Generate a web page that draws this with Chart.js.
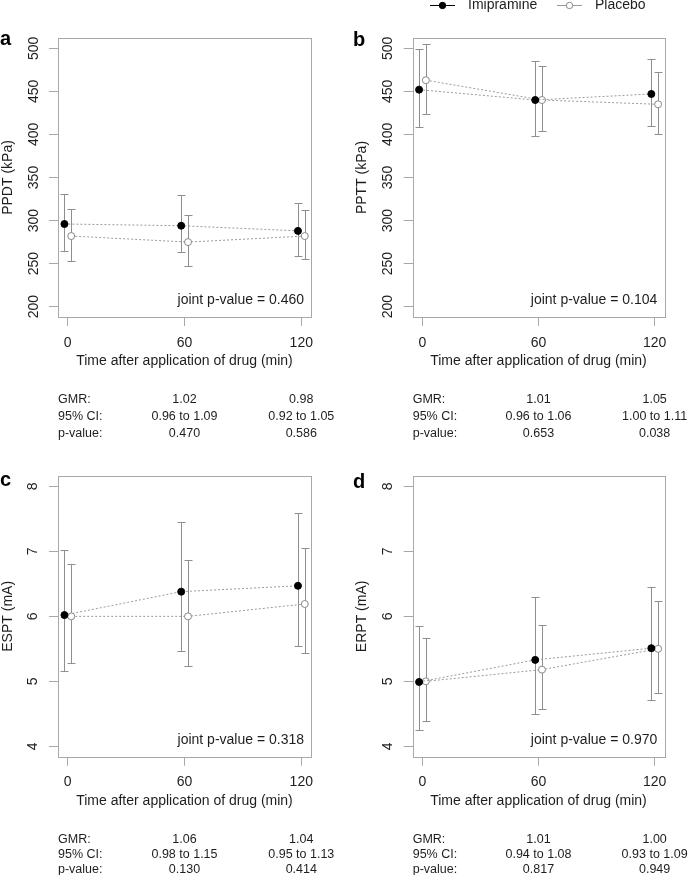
<!DOCTYPE html>
<html>
<head>
<meta charset="utf-8">
<script src="https://cdn.jsdelivr.net/npm/chart.js@4.4.1/dist/chart.umd.min.js"></script>
<style>
  html, body { margin: 0; padding: 0; background: #fff; }
  #wrap { position: relative; width: 689px; height: 875px; overflow: hidden; }
  canvas { position: absolute; }
</style>
</head>
<body>
<div id="wrap">
  <canvas id="panelA" width="344" height="440" style="left:0;top:0"></canvas>
  <canvas id="panelB" width="344" height="440" style="left:345px;top:0"></canvas>
  <canvas id="panelC" width="344" height="435" style="left:0;top:440px"></canvas>
  <canvas id="panelD" width="344" height="435" style="left:345px;top:440px"></canvas>
</div>
<script>
const times = [0, 60, 120];
const tableTimes = [60, 120];
const rowLabels = ['GMR:', '95% CI:', 'p-value:'];
const kpaTicks = [200, 250, 300, 350, 400, 450, 500];
const maTicks = [4, 5, 6, 7, 8];

// a - PPDT
const ppdtImip = [296, 294, 288];
const ppdtImipLo = [265, 263, 259];
const ppdtImipHi = [331, 330, 320];
const ppdtPlac = [282, 275, 282];
const ppdtPlacLo = [253, 247, 255];
const ppdtPlacHi = [314, 306, 312];
const ppdtGmr = ['1.02', '0.98'];
const ppdtCi = ['0.96 to 1.09', '0.92 to 1.05'];
const ppdtP = ['0.470', '0.586'];
const ppdtJoint = '0.460';

// b - PPTT
const ppttImip = [452, 440, 447];
const ppttImipLo = [409, 398, 410];
const ppttImipHi = [499, 485, 488];
const ppttPlac = [463, 440, 435];
const ppttPlacLo = [424, 404, 400];
const ppttPlacHi = [505, 479, 473];
const ppttGmr = ['1.01', '1.05'];
const ppttCi = ['0.96 to 1.06', '1.00 to 1.11'];
const ppttP = ['0.653', '0.038'];
const ppttJoint = '0.104';

// c - ESPT
const esptImip = [6.02, 6.38, 6.47];
const esptImipLo = [5.16, 5.47, 5.54];
const esptImipHi = [7.02, 7.45, 7.59];
const esptPlac = [6.00, 6.00, 6.19];
const esptPlacLo = [5.28, 5.24, 5.44];
const esptPlacHi = [6.80, 6.86, 7.05];
const esptGmr = ['1.06', '1.04'];
const esptCi = ['0.98 to 1.15', '0.95 to 1.13'];
const esptP = ['0.130', '0.414'];
const esptJoint = '0.318';

// d - ERPT
const erptImip = [4.99, 5.33, 5.51];
const erptImipLo = [4.25, 4.50, 4.71];
const erptImipHi = [5.85, 6.30, 6.45];
const erptPlac = [5.00, 5.18, 5.50];
const erptPlacLo = [4.39, 4.57, 4.82];
const erptPlacHi = [5.67, 5.87, 6.24];
const erptGmr = ['1.01', '1.00'];
const erptCi = ['0.94 to 1.08', '0.93 to 1.09'];
const erptP = ['0.817', '0.949'];
const erptJoint = '0.970';

const fontFamily = '"Liberation Sans", Arial, sans-serif';
const textColor = '#1e1e1e';
const axisGrey = '#a8a8a8';
const barGrey = '#8e8e8e';
const lineGrey = '#9a9a9a';

Chart.defaults.font.family = fontFamily;
Chart.defaults.color = textColor;

// little dodge so the two groups don't overlap
const dodgeImip = -1.7;
const dodgePlac = 1.8;

const panelDecor = {
  id: 'panelDecor',
  beforeDatasetsDraw(chart) {
    const { ctx, scales: { x, y } } = chart;
    ctx.save();
    ctx.strokeStyle = barGrey;
    ctx.lineWidth = 1;
    chart.data.datasets.forEach(ds => {
      ds.data.forEach((pt, i) => {
        const px = Math.round(x.getPixelForValue(pt.x)) + 0.5;
        const top = Math.round(y.getPixelForValue(ds.ciHigh[i])) + 0.5;
        const bot = Math.round(y.getPixelForValue(ds.ciLow[i])) + 0.5;
        ctx.beginPath();
        ctx.moveTo(px, top); ctx.lineTo(px, bot);
        ctx.moveTo(px - 4, top); ctx.lineTo(px + 4, top);
        ctx.moveTo(px - 4, bot); ctx.lineTo(px + 4, bot);
        ctx.stroke();
      });
    });
    ctx.restore();
  },
  afterDraw(chart, args, opts) {
    const { ctx, chartArea: a, scales: { x } } = chart;
    ctx.save();
    ctx.strokeStyle = axisGrey;
    ctx.lineWidth = 1;
    ctx.strokeRect(Math.round(a.left) + 0.5, Math.round(a.top) + 0.5,
      Math.round(a.right - a.left), Math.round(a.bottom - a.top));

    ctx.fillStyle = '#000';
    ctx.font = 'bold 20px ' + fontFamily;
    ctx.textAlign = 'left';
    ctx.textBaseline = 'alphabetic';
    ctx.fillText(opts.letter, opts.letterX, opts.letterY);

    ctx.fillStyle = textColor;
    ctx.font = '14px ' + fontFamily;
    ctx.textAlign = 'right';
    ctx.fillText('joint p-value = ' + opts.joint, a.right - 7, a.bottom - 13);

    ctx.font = '12.5px ' + fontFamily;
    opts.table.forEach((row, r) => {
      const yy = a.bottom + opts.rowY[r];
      ctx.textAlign = 'left';
      ctx.fillText(rowLabels[r], a.left, yy);
      ctx.textAlign = 'center';
      row.forEach((txt, c) => ctx.fillText(txt, x.getPixelForValue(tableTimes[c]), yy));
    });

    if (opts.legend) {
      const ly = 5.5;
      const items = [
        { ds: chart.data.datasets[0], x0: 85, line: '#000' },
        { ds: chart.data.datasets[1], x0: 212, line: lineGrey }
      ];
      items.forEach(it => {
        ctx.strokeStyle = it.line;
        ctx.lineWidth = 1;
        ctx.beginPath();
        ctx.moveTo(it.x0, ly); ctx.lineTo(it.x0 + 25, ly);
        ctx.stroke();
        ctx.beginPath();
        ctx.arc(it.x0 + 12.5, ly, 3.2, 0, Math.PI * 2);
        ctx.fillStyle = it.ds.pointBackgroundColor;
        ctx.fill();
        ctx.strokeStyle = it.ds.pointBorderColor;
        ctx.stroke();
        ctx.fillStyle = textColor;
        ctx.font = '14px ' + fontFamily;
        ctx.textAlign = 'left';
        ctx.textBaseline = 'middle';
        ctx.fillText(it.ds.label, it.x0 + 38, ly);
      });
    }
    ctx.restore();
  }
};

function makePanel(id, p) {
  const ctx = document.getElementById(id).getContext('2d');
  const canvasH = ctx.canvas.height;
  const xHeight = 52.5;
  return new Chart(ctx, {
    type: 'line',
    data: {
      datasets: [
        {
          label: 'Imipramine',
          data: times.map((t, i) => ({ x: t + dodgeImip, y: p.imip[i] })),
          ciLow: p.imipLo,
          ciHigh: p.imipHi,
          borderColor: lineGrey,
          borderWidth: 1,
          borderDash: [2, 2],
          pointRadius: 3.5,
          pointBackgroundColor: '#000',
          pointBorderColor: '#000',
          pointBorderWidth: 1,
          fill: false,
          tension: 0
        },
        {
          label: 'Placebo',
          data: times.map((t, i) => ({ x: t + dodgePlac, y: p.plac[i] })),
          ciLow: p.placLo,
          ciHigh: p.placHi,
          borderColor: lineGrey,
          borderWidth: 1,
          borderDash: [2, 2],
          pointRadius: 3.5,
          pointBackgroundColor: '#fff',
          pointBorderColor: '#888',
          pointBorderWidth: 1,
          fill: false,
          tension: 0
        }
      ]
    },
    options: {
      responsive: false,
      animation: false,
      events: [],
      layout: {
        padding: { left: 0, right: p.right, top: p.top, bottom: canvasH - p.bottom - xHeight }
      },
      plugins: {
        legend: { display: false },
        tooltip: { enabled: false },
        panelDecor: {
          letter: p.letter, letterX: p.letterX, letterY: p.letterY,
          joint: p.joint, table: p.table, rowY: p.rowY, legend: !!p.legend
        }
      },
      scales: {
        x: {
          type: 'linear',
          min: -5,
          max: 125,
          afterBuildTicks: s => { s.ticks = times.map(v => ({ value: v })); },
          afterFit: s => { s.height = xHeight; },
          grid: { drawOnChartArea: false, drawTicks: true, tickLength: 9, color: axisGrey },
          border: { display: false },
          ticks: { padding: 8.5, color: textColor, font: { size: 14 }, maxRotation: 0, autoSkip: false },
          title: { display: true, text: 'Time after application of drug (min)', color: textColor, font: { size: 14 }, padding: 0 }
        },
        y: {
          min: p.yMin,
          max: p.yMax,
          afterBuildTicks: s => { s.ticks = p.yTicks.map(v => ({ value: v })); },
          afterFit: s => { s.width = p.left; },
          grid: { drawOnChartArea: false, drawTicks: true, tickLength: 9, color: axisGrey },
          border: { display: false },
          ticks: { minRotation: 90, maxRotation: 90, crossAlign: 'center', padding: p.tickPad, color: textColor, font: { size: 14 }, autoSkip: false },
          title: { display: true, text: p.yTitle, color: textColor, font: { size: 14 }, padding: { top: p.titlePad, bottom: 0 } }
        }
      }
    },
    plugins: [panelDecor]
  });
}

const topRows = [86.3, 103, 119.6];
const bottomRows = [85.8, 101.3, 116.3];

makePanel('panelA', {
  imip: ppdtImip, imipLo: ppdtImipLo, imipHi: ppdtImipHi,
  plac: ppdtPlac, placLo: ppdtPlacLo, placHi: ppdtPlacHi,
  yMin: 188, yMax: 512, yTicks: kpaTicks, yTitle: 'PPDT (kPa)',
  left: 58, right: 33, top: 38, bottom: 317, tickPad: 3.5, titlePad: 0,
  letter: 'a', letterX: 0, letterY: 45, rowY: topRows,
  joint: ppdtJoint, table: [ppdtGmr, ppdtCi, ppdtP]
});

makePanel('panelB', {
  imip: ppttImip, imipLo: ppttImipLo, imipHi: ppttImipHi,
  plac: ppttPlac, placLo: ppttPlacLo, placHi: ppttPlacHi,
  yMin: 188, yMax: 512, yTicks: kpaTicks, yTitle: 'PPTT (kPa)',
  left: 67.7, right: 24.7, top: 38, bottom: 317, tickPad: 3.5, titlePad: 9,
  letter: 'b', letterX: 8, letterY: 46, rowY: topRows,
  joint: ppttJoint, table: [ppttGmr, ppttCi, ppttP], legend: true
});

makePanel('panelC', {
  imip: esptImip, imipLo: esptImipLo, imipHi: esptImipHi,
  plac: esptPlac, placLo: esptPlacLo, placHi: esptPlacHi,
  yMin: 3.84, yMax: 8.16, yTicks: maTicks, yTitle: 'ESPT (mA)',
  left: 58, right: 33, top: 36, bottom: 316.7, tickPad: 12, titlePad: 0,
  letter: 'c', letterX: 0, letterY: 46, rowY: bottomRows,
  joint: esptJoint, table: [esptGmr, esptCi, esptP]
});

makePanel('panelD', {
  imip: erptImip, imipLo: erptImipLo, imipHi: erptImipHi,
  plac: erptPlac, placLo: erptPlacLo, placHi: erptPlacHi,
  yMin: 3.84, yMax: 8.16, yTicks: maTicks, yTitle: 'ERPT (mA)',
  left: 67.7, right: 24.7, top: 36, bottom: 316.7, tickPad: 12, titlePad: 9,
  letter: 'd', letterX: 8, letterY: 48, rowY: bottomRows,
  joint: erptJoint, table: [erptGmr, erptCi, erptP]
});
</script>
</body>
</html>
